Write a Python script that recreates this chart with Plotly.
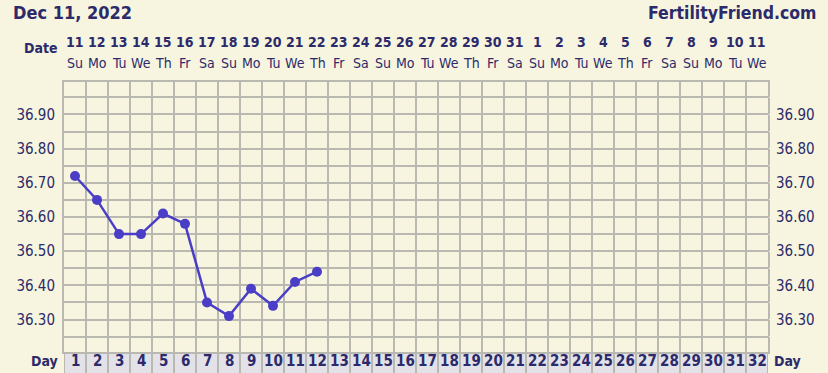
import plotly.graph_objects as go

# ---- data ----
cycle_days = [1, 2, 3, 4, 5, 6, 7, 8, 9, 10, 11, 12]
temps = [36.72, 36.65, 36.55, 36.55, 36.61, 36.58, 36.35, 36.31, 36.39, 36.34, 36.41, 36.44]
all_days = list(range(1, 33))
date_nums = ["11", "12", "13", "14", "15", "16", "17", "18", "19", "20", "21", "22", "23", "24",
             "25", "26", "27", "28", "29", "30", "31", "1", "2", "3", "4", "5", "6", "7", "8",
             "9", "10", "11"]
weekdays = ["Su", "Mo", "Tu", "We", "Th", "Fr", "Sa"] * 5
weekdays = weekdays[:32]
y_ticks = [36.25, 36.30, 36.35, 36.40, 36.45, 36.50, 36.55, 36.60, 36.65, 36.70, 36.75,
           36.80, 36.85, 36.90, 36.95]
y_ticktext = ["" if round(v * 100) % 10 else f"{v:.2f}" for v in y_ticks]
title_text = "Dec 11, 2022"
brand_text = "FertilityFriend.com"

# ---- style ----
FONT = "DejaVu Sans Condensed, DejaVu Sans, sans-serif"
NAVY = "#2C2A6A"
BG = "#F7F5DF"
GRID = "#BAB9B1"
LINE = "#4A3EC6"
ROWBG = "#E2E2E8"

W, H = 828, 373
L, R, T, B = 64, 60, 82, 21
PW, PH = W - L - R, H - T - B

fig = go.Figure()
fig.add_trace(go.Scatter(
    x=cycle_days, y=temps, mode="lines+markers",
    line=dict(color=LINE, width=2.5),
    marker=dict(color=LINE, size=10),
    showlegend=False, hoverinfo="x+y"))
fig.add_trace(go.Scatter(
    x=cycle_days, y=temps, yaxis="y2", mode="markers",
    marker=dict(opacity=0), showlegend=False, hoverinfo="skip"))

bounds = [d + 0.5 for d in range(0, 33)]

fig.update_layout(
    width=W, height=H,
    margin=dict(l=L, r=R, t=T, b=B, pad=0),
    paper_bgcolor=BG, plot_bgcolor=BG,
    font=dict(family=FONT, color=NAVY, size=14),
    xaxis=dict(range=[0.5, 32.5], tickmode="array", tickvals=bounds,
               showticklabels=False, showgrid=True, gridcolor=GRID, gridwidth=2,
               zeroline=False, showline=True, mirror=True, linecolor=GRID, linewidth=2,
               ticks=""),
    yaxis=dict(range=[36.205, 36.995], tickmode="array", tickvals=y_ticks, ticktext=y_ticktext,
               showgrid=True, gridcolor=GRID, gridwidth=2, zeroline=False,
               showline=True, mirror=True, linecolor=GRID, linewidth=2,
               ticks="outside", ticklen=4, tickcolor=BG,
               tickfont=dict(family=FONT, color=NAVY, size=15)),
    yaxis2=dict(range=[36.205, 36.995], overlaying="y", side="right", tickmode="array",
                tickvals=y_ticks, ticktext=y_ticktext, showgrid=False, zeroline=False,
                ticks="outside", ticklen=4, tickcolor=BG,
                tickfont=dict(family=FONT, color=NAVY, size=15)),
)

shapes = [dict(type="rect", xref="paper", yref="paper", x0=0, x1=1, y0=-B / PH, y1=0,
               fillcolor=ROWBG, line=dict(width=0), layer="below")]
for b in bounds:
    shapes.append(dict(type="line", xref="x", yref="paper", x0=b, x1=b, y0=-B / PH, y1=0,
                       line=dict(color=GRID, width=2)))
fig.update_layout(shapes=shapes)

ann = []
for d, dn, wd in zip(all_days, date_nums, weekdays):
    ann.append(dict(x=d, xref="x", y=1, yref="paper", yanchor="middle", yshift=T - 42,
                    text=f"<b>{dn}</b>", showarrow=False, font=dict(size=14, color=NAVY)))
    ann.append(dict(x=d, xref="x", y=1, yref="paper", yanchor="middle", yshift=T - 63,
                    text=wd, showarrow=False, font=dict(size=14, color=NAVY)))
    ann.append(dict(x=d, xref="x", y=0, yref="paper", yanchor="middle", yshift=-9,
                    text=f"<b>{d}</b>", showarrow=False, font=dict(size=15, color=NAVY)))

ann.append(dict(x=(60 - L) / PW, xref="paper", xanchor="right", y=1, yref="paper",
                yanchor="middle", yshift=T - 47.5, text="<b>Date</b>", showarrow=False,
                font=dict(size=14, color=NAVY)))
ann.append(dict(x=(60 - L) / PW, xref="paper", xanchor="right", y=0, yref="paper",
                yanchor="middle", yshift=-9, text="<b>Day</b>", showarrow=False,
                font=dict(size=14, color=NAVY)))
ann.append(dict(x=(772 - L) / PW, xref="paper", xanchor="left", y=0, yref="paper",
                yanchor="middle", yshift=-9, text="<b>Day</b>", showarrow=False,
                font=dict(size=14, color=NAVY)))
ann.append(dict(x=(11 - L) / PW, xref="paper", xanchor="left", y=1, yref="paper",
                yanchor="middle", yshift=T - 12.5, text=f"<b>{title_text}</b>", showarrow=False,
                font=dict(size=18, color=NAVY)))
ann.append(dict(x=(819 - L) / PW, xref="paper", xanchor="right", y=1, yref="paper",
                yanchor="middle", yshift=T - 13, text=f"<b>{brand_text}</b>", showarrow=False,
                font=dict(size=17.5, color=NAVY)))
fig.update_layout(annotations=ann)

fig.write_html("out.html")
